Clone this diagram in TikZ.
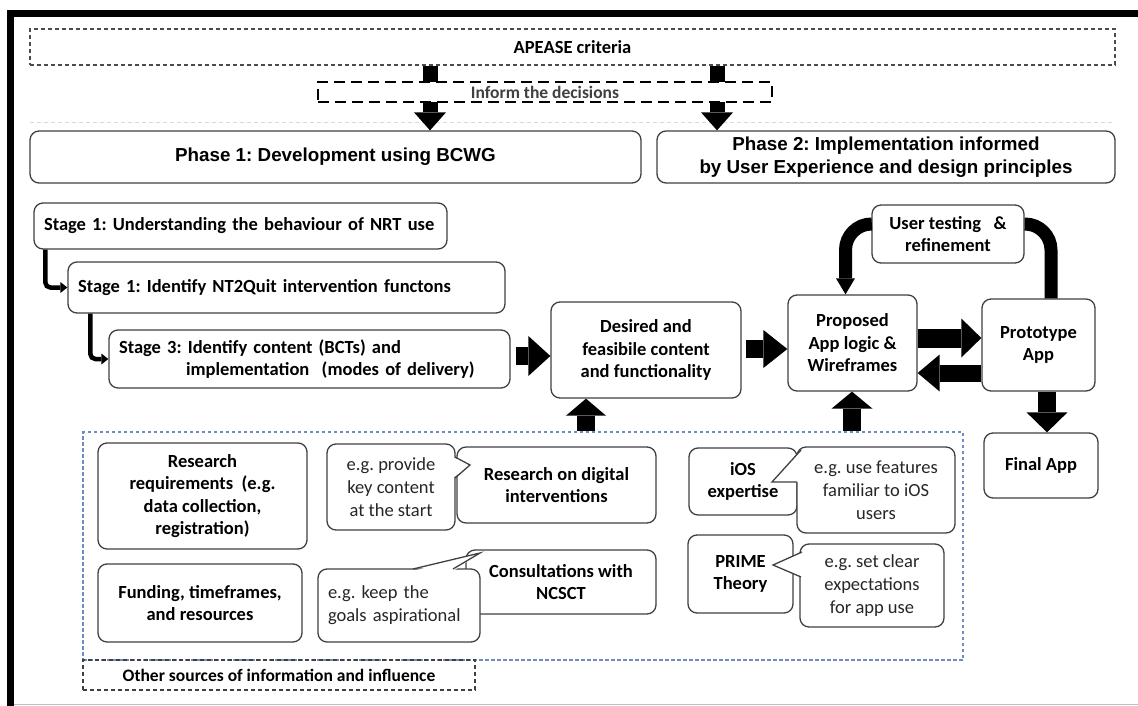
\documentclass[tikz,border=0pt]{standalone}
\usepackage{fontspec}
\setmainfont{Carlito}
\newfontfamily\headfont{Liberation Sans}
\usetikzlibrary{arrows.meta,calc}

\tikzset{
  box/.style={draw=black!75, line width=1.3pt, rounded corners=9pt, fill=white,
    align=center, inner sep=0pt, font=\bfseries\fontsize{18.5}{22.5}\selectfont},
  lbox/.style={box, align=left, inner xsep=10pt},
  note/.style={box, font=\fontsize{18.5}{23}\selectfont, text=black!85},
  headbox/.style={box, font=\headfont\bfseries\fontsize{18.8}{22.5}\selectfont},
  wedge/.style={draw=black!75, line width=1.3pt, line join=miter},
  fat/.style n args={3}{draw=black, line width=#1,
    -{Triangle[width=#2,length=#3,line width=0pt]}},
  elbow/.style={draw=black, line width=4.5pt, rounded corners=5pt,
    -{Triangle[width=11pt,length=7pt,line width=0pt]}},
  loopline/.style={draw=black, line width=13pt, rounded corners=26pt},
  srcbox/.style={draw={rgb,255:red,110;green,140;blue,195}, line width=1.2pt,
    dash pattern=on 3.5pt off 2.5pt, inner sep=0pt},
}

\begin{document}
\frenchspacing
\begin{tikzpicture}[x=1pt,y=-1pt]
\useasboundingbox (0,0) rectangle (1138,706);

% page frame
\fill[black] (7,10) rectangle (1138,17);
\fill[black] (7,10) rectangle (14,706);
\draw[black!25, line width=1pt] (14,704) -- (1138,704);
\draw[black!15, line width=0.8pt, dash pattern=on 4pt off 3pt] (30,122) -- (1115,122);

% top criteria band
\node[draw=black!70, line width=1.1pt, dash pattern=on 4pt off 3pt, inner sep=0pt,
  minimum width=1085pt, minimum height=36pt,
  font=\bfseries\fontsize{18.5}{22}\selectfont] (apease) at (572.5,47) {APEASE criteria};

% phases
\node[headbox, minimum width=611pt, minimum height=52pt] (ph1) at (335.5,157)
  {Phase 1: Development using BCWG};
\node[headbox, minimum width=458pt, minimum height=52pt] (ph2) at (886,157)
  {Phase 2: Implementation informed\\by User Experience and design principles};

% stages
\node[lbox, text width=393pt, minimum height=46pt] (s1) at (240.5,226)
  {Stage 1: Understanding the behaviour of NRT use};
\node[lbox, text width=417pt, minimum height=51pt] (s2) at (286.5,287.5)
  {Stage 1: Identify NT2Quit intervention functons};
\node[lbox, text width=381pt, minimum height=58pt] (s3) at (309.5,359)
  {Stage 3: Identify content (BCTs) and\\\hspace*{67pt}implementation~~(modes of delivery)};

% development flow
\node[box, minimum width=190pt, minimum height=96pt] (des) at (646,350)
  {Desired and\\feasibile content\\and functionality};
\node[box, minimum width=129pt, minimum height=96pt] (prop) at (852.5,343)
  {Proposed\\App logic \&\\Wireframes};
\node[box, minimum width=113pt, minimum height=92pt] (proto) at (1038.5,345)
  {Prototype\\App};
\node[box, minimum width=152pt, minimum height=58pt] (ut) at (948,234)
  {User testing~~~\&\\refinement};
\node[box, minimum width=114pt, minimum height=65pt] (final) at (1041,465.5)
  {Final App};

% other sources
\node[srcbox, minimum width=880pt, minimum height=228pt] (src) at (523,546) {};
\node[draw=black!75, line width=1.2pt, dash pattern=on 4pt off 3pt, inner sep=0pt,
  minimum width=392pt, minimum height=30pt,
  font=\bfseries\fontsize{17.5}{21}\selectfont] (other) at (279,675)
  {Other sources of information and influence};

\node[box, minimum width=209pt, minimum height=106pt] (rr) at (202.5,496)
  {Research\\requirements~~(e.g.\\data collection,\\registration)};
\node[box, minimum width=204pt, minimum height=78pt] (fund) at (200,603)
  {Funding, timeframes,\\and resources};
\node[box, minimum width=199pt, minimum height=76pt] (rod) at (556.5,485)
  {Research on digital\\interventions};
\node[box, minimum width=190pt, minimum height=64pt] (cons) at (561,582)
  {Consultations with\\NCSCT};

\node[note, minimum width=128pt, minimum height=86pt] (prov) at (391,487)
  {e.g. provide\\key content\\at the start};
\fill[white] (453,457) -- (470,465) -- (453,478) -- cycle;
\draw[wedge] (455,457) -- (470,465) -- (455,478);

\node[note, align=left, text width=142pt, inner xsep=10pt, minimum height=73pt] (keep) at (399,605.5)
  {e.g. keep the\\goals aspirational};
\fill[white] (413,571) -- (480,553) -- (453,571) -- cycle;
\draw[wedge] (413,569) -- (480,553) -- (453,569);

\node[box, minimum width=108pt, minimum height=67pt] (ios) at (743,481.5)
  {iOS\\expertise};
\node[box, minimum width=105pt, minimum height=78pt] (prime) at (740.5,574)
  {PRIME\\Theory};

\node[note, minimum width=158pt, minimum height=86pt] (use) at (876,490)
  {e.g. use features\\familiar to iOS\\users};
\fill[white] (801,450) -- (772,482) -- (799,482) -- (799,451) -- cycle;
\draw[wedge] (801,450) -- (772,482) -- (797,482);

\node[note, minimum width=144pt, minimum height=83pt] (clear) at (872,585.5)
  {e.g. set clear\\expectations\\for app use};
\fill[white] (803,552) -- (773,565) -- (803,577) -- cycle;
\draw[wedge] (802,552) -- (773,565) -- (801,577);

% guide coordinates for the block arrows
\coordinate (xa) at (430,0);
\coordinate (xb) at (717,0);
\coordinate (xc) at (586,0);
\coordinate (xd) at (852,0);
\coordinate (xe) at (1047,0);
\coordinate (ya) at (0,356);
\coordinate (yb) at (0,349);
\coordinate (yc) at (0,338);
\coordinate (yd) at (0,373);

% criteria feed both phases
\draw[fat={15pt}{32pt}{18pt}] (apease.south -| xa) -- (ph1.north -| xa);
\draw[fat={15pt}{32pt}{18pt}] (apease.south -| xb) -- (ph2.north -| xb);

% the decisions band sits over the arrow shafts
\node[draw=black, fill=white, line width=2.2pt, dash pattern=on 11pt off 6pt, inner sep=0pt,
  minimum width=454pt, minimum height=20pt, text=black!75,
  font=\bfseries\fontsize{17.5}{20}\selectfont] (inform) at (545,92) {Inform the decisions};

% stage steps
\draw[elbow] ([xshift=12pt]s1.south west) |- (s2.west);
\draw[elbow] ([xshift=23pt]s2.south west) |- (s3.west);

% main flow
\draw[fat={18pt}{40pt}{22pt}] ($(s3.east |- ya)+(5,0)$) -- (des.west |- ya);
\draw[fat={18pt}{38pt}{24pt}] ($(des.east |- yb)+(4,0)$) -- (prop.west |- yb);
\draw[fat={19pt}{39pt}{20pt}] (prop.east |- yc) -- (proto.west |- yc);
\draw[fat={17pt}{37pt}{22pt}] (proto.west |- yd) -- (prop.east |- yd);
\draw[fat={18pt}{41pt}{20pt}] (proto.south -| xe) -- (final.north -| xe);
\draw[fat={18pt}{40pt}{17pt}] (src.north -| xc) -- (des.south -| xc);
\draw[fat={18pt}{41pt}{17pt}] (src.north -| xd) -- (prop.south -| xd);

% testing loop
\draw[loopline] ([xshift=12.5pt]proto.north) |- ([yshift=10pt]ut.east);
\draw[loopline, -{Triangle[width=19pt,length=16pt,line width=0pt]}]
  ([yshift=10pt]ut.west) -| ([xshift=-7pt]prop.north);
\end{tikzpicture}
\end{document}
